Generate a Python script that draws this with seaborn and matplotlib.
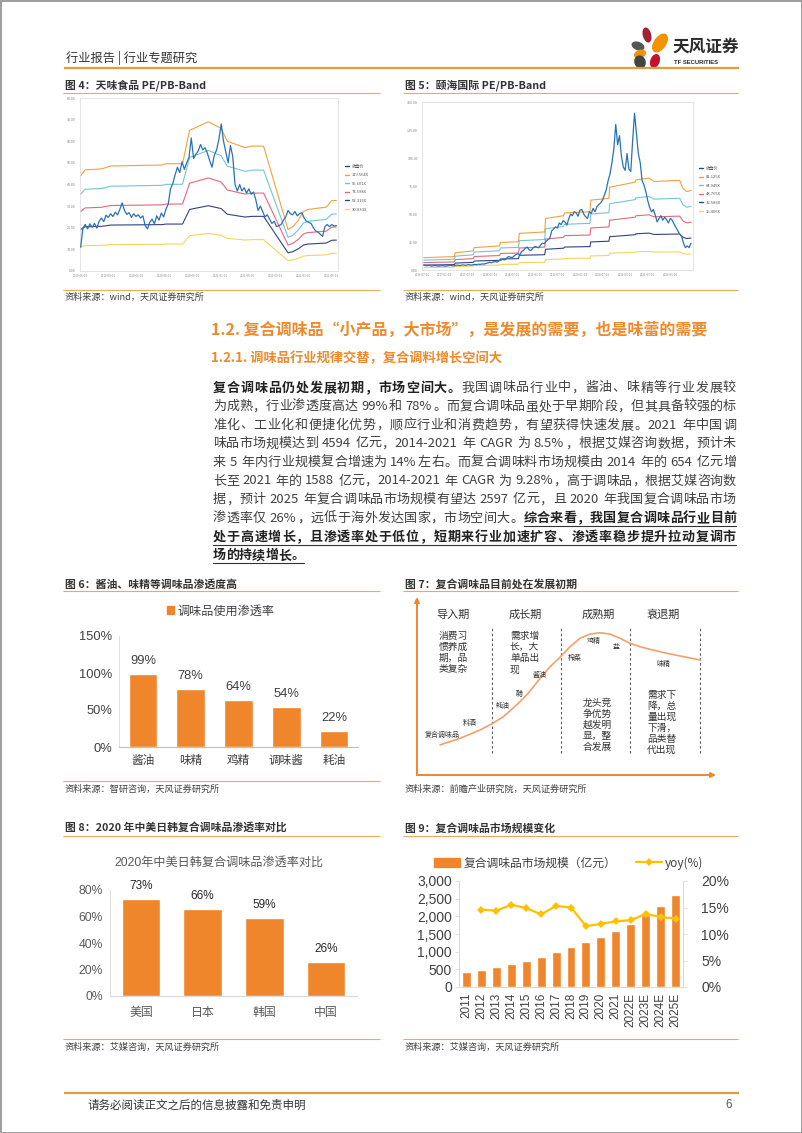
import re
import numpy as np
import pandas as pd
import matplotlib
matplotlib.use("Agg")
import matplotlib.pyplot as plt
from matplotlib.patches import Ellipse, Rectangle, Patch
from matplotlib.lines import Line2D
import seaborn as sns

# ---------------- data ----------------
# 图4 天味食品 PE-Band
tw_band_labels = ["119.564X", "96.601X", "74.598X", "52.316X", "30.033X"]
tw_multiples = [119.564, 96.601, 74.598, 52.316, 30.033]
tw_eps_dates = ["2019-05-01", "2019-05-20", "2019-08-01", "2019-09-10", "2020-04-20",
                "2020-05-10", "2020-07-20", "2020-08-20", "2020-11-10", "2021-01-05",
                "2021-02-01", "2021-04-20", "2021-05-20", "2021-07-10", "2021-10-25",
                "2021-11-15", "2021-12-10", "2022-01-01", "2022-01-20", "2022-04-10",
                "2022-05-05", "2022-05-25"]
tw_eps = [0.368, 0.391, 0.395, 0.406, 0.410, 0.415, 0.415, 0.544, 0.577, 0.552,
          0.502, 0.477, 0.483, 0.483, 0.161, 0.171, 0.197, 0.230, 0.238, 0.247,
          0.272, 0.273]
# close price, about every 10 days from 2019-05-01 to 2022-05-25
tw_price = [11.0, 20.0, 21.5, 19.5, 21.8, 20.2, 22.0, 19.8, 23.0, 24.5, 22.8, 25.8,
            24.8, 26.5, 25.2, 27.2, 26.0, 28.5, 31.5, 28.0, 26.2, 27.0, 24.8, 26.5,
            25.2, 26.0, 24.5, 25.5, 21.0, 19.5, 22.5, 24.0, 21.8, 25.5, 23.5, 26.8,
            25.0, 28.5, 31.0, 38.0, 40.5, 44.5, 48.0, 45.5, 50.5, 47.0, 50.0, 52.5,
            61.5, 52.0, 54.0, 55.5, 58.5, 56.0, 57.0, 54.5, 51.0, 48.0, 53.5, 56.0,
            61.0, 68.0, 60.0, 55.0, 50.0, 58.0, 53.0, 40.0, 37.0, 40.0, 37.0, 38.5,
            36.0, 38.0, 35.5, 36.5, 33.0, 28.0, 30.0, 27.5, 25.0, 26.0, 24.0, 22.0,
            23.0, 20.5, 21.0, 21.5, 23.5, 25.0, 28.0, 26.5, 26.0, 27.5, 25.5, 26.5,
            27.0, 24.5, 23.0, 22.5, 22.0, 20.0, 18.5, 18.0, 17.0, 16.0, 20.5, 21.5,
            20.5, 21.5, 20.8, 21.0]
tw_ticks = ["2019-05-01", "2019-09-01", "2020-01-01", "2020-05-01", "2020-09-01",
            "2021-01-01", "2021-05-01", "2021-09-01", "2022-01-01", "2022-05-01"]

# 图5 颐海国际 PE-Band
yh_band_labels = ["81.125X", "64.945X", "48.765X", "32.586X", "16.406X"]
yh_multiples = [81.125, 64.945, 48.765, 32.586, 16.406]
yh_eps_dates = ["2016-07-15", "2017-03-20", "2017-03-27", "2017-08-20", "2017-08-27",
                "2018-03-20", "2018-03-27", "2018-08-20", "2018-08-27", "2019-03-20",
                "2019-03-27", "2019-08-20", "2019-08-27", "2020-03-20", "2020-03-27",
                "2020-08-20", "2020-08-27", "2021-01-15", "2021-03-20", "2021-03-27",
                "2021-07-10", "2021-08-20", "2022-03-15", "2022-04-10", "2022-05-10",
                "2022-06-15"]
yh_eps = [0.1356, 0.1479, 0.1898, 0.2096, 0.2465, 0.2650, 0.3032, 0.3106, 0.4031,
          0.4191, 0.5670, 0.5978, 0.6287, 0.6410, 0.7692, 0.7889, 0.9122, 0.9492,
          0.9676, 0.9923, 1.0108, 0.9738, 0.9861, 0.8998, 0.8629, 0.8752]
# close price, twice a month from 2016-07-15 to 2022-06-15
yh_price = [4.5, 4.0, 3.8, 4.2, 3.5, 3.8, 4.0, 3.6, 3.4, 3.7, 3.9, 3.5,
            3.6, 3.8, 4.1, 3.9, 3.7, 4.2, 4.4, 4.0, 4.3, 4.6, 4.2, 4.5,
            4.8, 4.4, 4.6, 5.0, 4.7, 5.2, 5.0, 5.4, 5.3, 5.8, 6.2, 6.8,
            6.5, 7.2, 7.6, 7.0, 8.2, 8.8, 9.5, 9.0, 10.5, 12.0, 11.5, 11.0,
            12.5, 13.8, 14.5, 13.5, 16.5, 17.5, 19.5, 20.5, 18.0, 17.5, 19.5, 21.0,
            20.5, 19.8, 22.0, 24.0, 23.5, 25.5, 27.0, 28.5, 35.0, 36.5, 38.5, 37.5,
            42.0, 40.5, 44.0, 43.0, 40.0, 45.5, 50.0, 48.5, 52.0, 51.0, 48.0, 53.5,
            54.0, 50.0, 47.5, 46.0, 52.0, 50.5, 55.0, 52.0, 56.5, 58.5, 60.0, 62.5,
            67.0, 72.0, 80.0, 86.0, 96.0, 108.0, 130.0, 112.0, 120.0, 102.0, 92.0, 89.0,
            104.0, 90.0, 88.0, 116.0, 140.0, 122.0, 104.0, 96.0, 80.0, 76.0, 70.0, 62.0,
            56.0, 52.0, 54.0, 49.0, 43.0, 46.0, 48.5, 44.5, 47.0, 45.0, 42.0, 46.0,
            44.5, 41.0, 38.0, 35.0, 32.0, 30.0, 24.0, 20.0, 21.5, 20.0, 24.0]
yh_ticks = ["2016-07-01", "2017-01-01", "2017-07-01", "2018-01-01", "2018-07-01",
            "2019-01-01", "2019-07-01", "2020-01-01", "2020-07-01", "2021-01-01",
            "2021-07-01", "2022-01-01"]

# 图6
seasoning_cats = ["酱油", "味精", "鸡精", "调味酱", "耗油"]
seasoning_pen = [99, 78, 64, 54, 22]

# 图7 lifecycle curve (time 0-100, size 0-100)
stage_names = ["导入期", "成长期", "成熟期", "衰退期"]
stage_bounds = [25.0, 48.2, 71.2, 94.6]
curve_t = [7.7, 14.4, 21.1, 25.0, 28.9, 33.3, 37.2, 41.2, 44.5, 47.8, 51.2, 54.5,
           57.9, 61.2, 64.5, 67.9, 71.2, 74.6, 77.9, 83.5, 89.1, 94.7]
curve_v = [16.9, 20.6, 25.3, 28.7, 32.8, 39.3, 45.9, 54.3, 60.8, 66.1, 72.1, 76.8,
           79.2, 79.9, 79.2, 76.8, 74.0, 72.1, 70.6, 68.4, 66.5, 64.6]

# 图8
countries = ["美国", "日本", "韩国", "中国"]
country_pen = [73, 66, 59, 26]

# 图9
years = ["2011", "2012", "2013", "2014", "2015", "2016", "2017", "2018", "2019",
         "2020", "2021", "2022E", "2023E", "2024E", "2025E"]
market_size = [430, 490, 560, 654, 750, 850, 980, 1130, 1260, 1410, 1588, 1785,
               2030, 2300, 2597]
yoy = [14.6, 14.4, 15.5, 14.9, 13.7, 15.3, 15.0, 11.5, 11.9, 12.4, 12.6, 13.8,
       13.2, 12.9]

# ---------------- style ----------------
sns.set_theme(style="white")
plt.rcParams["font.family"] = ["Noto Sans CJK SC", "DejaVu Sans"]
NUMFONT = ["Liberation Sans", "Noto Sans CJK SC"]
ORANGE = "#F0862C"
RULE = "#F2A65A"
TXT = "#404040"
BAND_COLORS = ["#F2A23C", "#72C6D0", "#E5677B", "#34427E", "#F6D45B"]
PRICE_COLOR = "#2A72B3"

W, H = 802, 1133
fig = plt.figure(figsize=(W / 100, H / 100), dpi=100)
bg = fig.add_axes([0, 0, 1, 1])
bg.set_xlim(0, W)
bg.set_ylim(H, 0)
bg.axis("off")
renderer = fig.canvas.get_renderer()


def rect(x0, y0, x1, y1):
    return [x0 / W, 1 - y1 / H, (x1 - x0) / W, (y1 - y0) / H]


def hrule(x0, x1, y, color=RULE, lw=0.8):
    bg.plot([x0, x1], [y, y], color=color, lw=lw, solid_capstyle="butt")


# page frame, header, footer
bg.add_patch(Rectangle((0.5, 0.5), W - 1, H - 1, fill=False, edgecolor="#8C8C8C", lw=1.2))
bg.text(66, 58, "行业报告 | 行业专题研究", fontsize=8.8, color="#333333", va="center")
hrule(64, 739, 68, color="#E59A3B", lw=1.6)
for (cx, cy, w, h, a, c) in [(647, 35, 7, 14, -15, "#A31F34"), (660, 43, 11, 20, 35, "#F39200"),
                             (638, 46, 12, 7, 20, "#555555"), (640, 54, 11, 7, -20, "#F39200"),
                             (640, 62, 10, 12, -20, "#444444"), (655, 61, 8, 13, 20, "#C8102E")]:
    bg.add_patch(Ellipse((cx, cy), w, h, angle=a, color=c))
bg.text(672, 47, "天风证券", fontsize=12, fontweight="bold", color="#2B2B2B", va="center")
bg.text(674, 63, "TF SECURITIES", fontsize=4.2, fontweight="bold", color="#2B2B2B",
        va="center", family=NUMFONT)
hrule(64, 739, 1093, color="#E59A3B", lw=1.6)
bg.text(87, 1105, "请务必阅读正文之后的信息披露和免责申明", fontsize=8.3, color="#333333", va="center")
bg.text(732, 1105, "6", fontsize=8.3, color="#555555", va="center", ha="right", family=NUMFONT)


def fig_title(x, y, s):
    bg.text(x, y, s, fontsize=7.8, fontweight="bold", color="#333333", va="center")


def fig_source(x, y, s):
    bg.text(x, y, s, fontsize=6.6, color=TXT, va="center")


# ---------------- PE band charts ----------------
def band_chart(box, price, pstart, pend, eps_dates, eps, mults, labels, ymax, ystep,
               ticks, xlim, leg_xy):
    ax = fig.add_axes(rect(*box))
    ax.set_facecolor("white")
    ed = pd.to_datetime(eps_dates)
    handles = []
    for m, lab, c in zip(mults, labels, BAND_COLORS):
        sns.lineplot(x=ed, y=np.array(eps) * m, ax=ax, color=c, lw=0.8)
        handles.append(Line2D([0], [0], color=c, lw=1.0, label=lab))
    pdates = pd.date_range(pstart, pend, periods=len(price))
    sns.lineplot(x=pdates, y=price, ax=ax, color=PRICE_COLOR, lw=0.9, zorder=3)
    handles.insert(0, Line2D([0], [0], color="#1F4E79", lw=1.0, label="收盘价"))
    ax.set_xlim(pd.to_datetime(xlim[0]), pd.to_datetime(xlim[1]))
    ax.set_ylim(0, ymax)
    yt = np.arange(0, ymax + 1, ystep)
    ax.set_yticks(yt)
    ax.set_yticklabels([f"{v:.2f}" for v in yt])
    ax.set_xticks(pd.to_datetime(ticks))
    ax.set_xticklabels(ticks)
    ax.tick_params(axis="y", labelsize=2.6, colors="#808080", length=0, pad=3)
    ax.tick_params(axis="x", labelsize=2.1, colors="#808080", length=0, pad=2)
    ax.set_xlabel("")
    ax.set_ylabel("")
    for s in ax.spines.values():
        s.set_color("#D9D9D9")
        s.set_linewidth(0.5)
    ax.legend(handles=handles, loc="center left", bbox_to_anchor=leg_xy,
              bbox_transform=bg.transData, frameon=False, fontsize=3.0,
              handlelength=1.0, handletextpad=0.6, labelspacing=1.1, borderpad=0,
              labelcolor="#555555")
    return ax


fig_title(65, 85, "图 4：天味食品 PE/PB-Band")
hrule(63, 380, 93)
band_chart((80, 98, 338, 271), tw_price, "2019-05-01", "2022-05-25", tw_eps_dates, tw_eps,
           tw_multiples, tw_band_labels, 80, 10, tw_ticks, ("2019-04-28", "2022-06-01"),
           (343, 188))
hrule(63, 380, 290)
fig_source(65, 297, "资料来源：wind，天风证券研究所")

fig_title(405, 85, "图 5：颐海国际 PE/PB-Band")
hrule(403, 738, 93)
band_chart((422, 102, 693, 270), yh_price, "2016-07-15", "2022-06-15", yh_eps_dates, yh_eps,
           yh_multiples, yh_band_labels, 150, 25, yh_ticks, ("2016-07-01", "2022-07-01"),
           (697, 190))
hrule(403, 738, 290)
fig_source(405, 297, "资料来源：wind，天风证券研究所")

# ---------------- text block ----------------
HEAD = "#EE8A2C"
bg.text(211, 330, "1.2. 复合调味品“小产品，大市场”，是发展的需要，也是味蕾的需要",
        fontsize=11.5, fontweight="bold", color=HEAD, va="center")
bg.text(211, 358, "1.2.1. 调味品行业规律交替，复合调料增长空间大",
        fontsize=9.5, fontweight="bold", color=HEAD, va="center")

para_lines = [
    [("复合调味品仍处发展初期，市场空间大。", "b"), ("我国调味品行业中，酱油、味精等行业发展较", "n")],
    [("为成熟，行业渗透度高达 99%和 78%。而复合调味品虽处于早期阶段，但其具备较强的标", "n")],
    [("准化、工业化和便捷化优势，顺应行业和消费趋势，有望获得快速发展。2021 年中国调", "n")],
    [("味品市场规模达到 4594 亿元，2014-2021 年 CAGR 为 8.5%，根据艾媒咨询数据，预计未", "n")],
    [("来 5 年内行业规模复合增速为 14%左右。而复合调味料市场规模由 2014 年的 654 亿元增", "n")],
    [("长至 2021 年的 1588 亿元，2014-2021 年 CAGR 为 9.28%，高于调味品，根据艾媒咨询数", "n")],
    [("据，预计 2025 年复合调味品市场规模有望达 2597 亿元，且 2020 年我国复合调味品市场", "n")],
    [("渗透率仅 26%，远低于海外发达国家，市场空间大。", "n"), ("综合来看，我国复合调味品行业目前", "bu")],
    [("处于高速增长，且渗透率处于低位，短期来行业加速扩容、渗透率稳步提升拉动复调市", "bu")],
    [("场的持续增长。", "bu")],
]
# justified lines: every CJK glyph advances one em, latin runs by their width
PX0, PX1, BASE = 213, 736, 9.4
EM = BASE * 100 / 72
for i, segs in enumerate(para_lines):
    y = 388 + i * 18.6
    toks = []
    for s, style in segs:
        for tk in re.findall(r"[A-Za-z0-9.%\-]+| |.", s):
            if tk == " ":
                toks.append([None, 0.25 * EM, style])
                continue
            t = bg.text(0, y, tk, fontsize=BASE, va="center", ha="left",
                        fontweight="bold" if "b" in style else "normal",
                        color="#222222" if "b" in style else TXT)
            adv = EM if ord(tk[0]) > 0x2E7F else t.get_window_extent(renderer).width + 0.08 * EM
            toks.append([t, adv, style])
    natural = sum(tk[1] for tk in toks)
    last = i == len(para_lines) - 1
    gap = 0 if last else (PX1 - PX0 - natural) / (len(toks) - 1)
    x = PX0
    u0 = u1 = None
    for t, adv, style in toks:
        if t is not None:
            t.set_x(x)
        if "u" in style:
            u0 = x if u0 is None else u0
            u1 = x + adv
        x += adv + gap
    if u0 is not None:
        bg.plot([u0, u1], [y + 8, y + 8], color="#333333", lw=0.8)

# ---------------- 图6 ----------------
fig_title(65, 584, "图 6：酱油、味精等调味品渗透度高")
hrule(63, 380, 591)
ax6 = fig.add_axes(rect(119, 636, 358, 747))
ax6.patch.set_alpha(0)
sns.barplot(x=seasoning_cats, y=seasoning_pen, color=ORANGE, saturation=1, width=0.6, ax=ax6)
ax6.bar_label(ax6.containers[0], labels=[f"{v}%" for v in seasoning_pen], padding=5,
              fontsize=9.3, color=TXT, family=NUMFONT)
ax6.set_ylim(0, 150)
ax6.set_yticks([0, 50, 100, 150])
ax6.set_yticklabels(["0%", "50%", "100%", "150%"])
ax6.tick_params(axis="y", labelsize=9.3, colors=TXT, length=3, color="#D9D9D9", width=0.6, pad=2)
ax6.tick_params(axis="x", labelsize=8.4, colors=TXT, length=0, pad=5)
for lab in ax6.get_yticklabels():
    lab.set_fontfamily(NUMFONT)
sns.despine(ax=ax6, top=True, right=True)
ax6.spines["left"].set_color("#D9D9D9")
ax6.spines["left"].set_linewidth(0.6)
ax6.spines["bottom"].set_color("#BFBFBF")
ax6.spines["bottom"].set_linewidth(0.8)
ax6.legend(handles=[Patch(color=ORANGE, label="调味品使用渗透率")], loc="center",
           bbox_to_anchor=(221, 611), bbox_transform=bg.transData, frameon=False,
           fontsize=8.7, handlelength=0.6, handleheight=0.6, handletextpad=0.3,
           labelcolor=TXT)
hrule(63, 380, 781)
fig_source(65, 789, "资料来源：智研咨询，天风证券研究所")

# ---------------- 图7 ----------------
fig_title(405, 584, "图 7：复合调味品目前处在发展初期")
hrule(403, 738, 591)
ax7 = fig.add_axes(rect(417, 597, 716, 775))
ax7.set_xlim(0, 100)
ax7.set_ylim(0, 100)
ax7.axis("off")
arrow = dict(arrowstyle="-|>", color=ORANGE, lw=1.4, mutation_scale=7, shrinkA=0, shrinkB=0)
ax7.annotate("", xy=(0, 100), xytext=(0, 0), arrowprops=arrow, annotation_clip=False)
ax7.annotate("", xy=(100, 0), xytext=(0, 0), arrowprops=arrow, annotation_clip=False)
ax7.vlines(stage_bounds, 12.4, 82.6, colors="#595959", linestyles=(0, (2.2, 2.2)), lw=0.8)
sns.lineplot(x=curve_t, y=curve_v, ax=ax7, color="#F4A06A", lw=1.2, sort=False)
for name, xc in zip(stage_names, [12.0, 36.1, 60.5, 82.3]):
    ax7.text(xc, 89.9, name, fontsize=8, color="#333333", ha="center", va="center")
# stacked description text, one row every 11 px (6.2 units)
for rows, xc, ytop, ha in [(["消费习", "惯养成", "期，品", "类复杂"], 12.0, 78.0, "center"),
                           (["需求增", "长，大", "单品出", "现"], 31.1, 78.0, "left"),
                           (["龙头竞", "争优势", "越发明", "显，整", "合发展"], 60.2, 40.5, "center"),
                           (["需求下", "降，总", "量出现", "下滑，", "品类替", "代出现"], 81.9, 45.0, "center")]:
    for k, row in enumerate(rows):
        ax7.text(xc, ytop - k * 6.2, row, fontsize=7, color="#333333", ha=ha, va="center")
for name, (xt, yt) in zip(["复合调味品", "料酒", "蚝油", "醋", "酱油", "榨菜", "鸡精", "盐", "味精"],
                          [(8.4, 22.5), (17.7, 29.2), (28.8, 38.8), (34.1, 46.1), (41.0, 56.2),
                           (52.8, 65.7), (59.2, 75.3), (66.6, 71.9), (82.3, 62.4)]):
    ax7.text(xt, yt, name, fontsize=5, color="#333333", ha="center", va="center")
fig_source(405, 789, "资料来源：前瞻产业研究院，天风证券研究所")

# ---------------- 图8 ----------------
fig_title(65, 828, "图 8：2020 年中美日韩复合调味品渗透率对比")
hrule(63, 380, 836)
bg.text(219, 863, "2020年中美日韩复合调味品渗透率对比", fontsize=8.7, color="#595959",
        ha="center", va="center", family=NUMFONT)
ax8 = fig.add_axes(rect(110, 890, 357, 996))
ax8.patch.set_alpha(0)
sns.barplot(x=countries, y=country_pen, color=ORANGE, saturation=1, width=0.62, ax=ax8)
ax8.bar_label(ax8.containers[0], labels=[f"{v}%" for v in country_pen], padding=5,
              fontsize=8.5, color="#262626", family=NUMFONT)
ax8.set_ylim(0, 80)
ax8.set_yticks([0, 20, 40, 60, 80])
ax8.set_yticklabels(["0%", "20%", "40%", "60%", "80%"])
ax8.tick_params(axis="y", labelsize=8.7, colors="#595959", length=3, color="#D9D9D9", width=0.6, pad=2)
ax8.tick_params(axis="x", labelsize=8.6, colors="#595959", length=0, pad=7)
for lab in ax8.get_yticklabels():
    lab.set_fontfamily(NUMFONT)
sns.despine(ax=ax8, top=True, right=True)
ax8.spines["left"].set_color("#D9D9D9")
ax8.spines["left"].set_linewidth(0.6)
ax8.spines["bottom"].set_color("#D9D9D9")
ax8.spines["bottom"].set_linewidth(0.8)
hrule(63, 380, 1039)
fig_source(65, 1047, "资料来源：艾媒咨询，天风证券研究所")

# ---------------- 图9 ----------------
fig_title(405, 828, "图 9：复合调味品市场规模变化")
hrule(403, 738, 836)
ax9 = fig.add_axes(rect(459, 881, 683, 987))
ax9.patch.set_alpha(0)
sns.barplot(x=years, y=market_size, color=ORANGE, saturation=1, width=0.6, ax=ax9)
ax9.set_ylim(0, 3000)
ax9.set_yticks(range(0, 3001, 500))
ax9.set_yticklabels([f"{v:,}" for v in range(0, 3001, 500)])
ax9.set_xlim(-0.5, len(years) - 0.5)
ax9.tick_params(axis="y", labelsize=10, colors=TXT, length=3, color="#D9D9D9", width=0.6, pad=2)
ax9.tick_params(axis="x", labelsize=8.5, colors=TXT, length=0, pad=4, rotation=90)
ax9b = ax9.twinx()
sns.lineplot(x=np.arange(1, len(years)), y=yoy, ax=ax9b, color="#FFC000", lw=1.6,
             marker="D", markersize=4.5, markeredgewidth=0)
ax9b.set_ylim(0, 20)
ax9b.set_yticks([0, 5, 10, 15, 20])
ax9b.set_yticklabels(["0%", "5%", "10%", "15%", "20%"])
ax9b.tick_params(axis="y", labelsize=10, colors=TXT, length=3, color="#D9D9D9", width=0.6, pad=10)
for lab in ax9.get_yticklabels() + ax9.get_xticklabels() + ax9b.get_yticklabels():
    lab.set_fontfamily(NUMFONT)
for a in (ax9, ax9b):
    a.set_xlabel("")
    a.set_ylabel("")
    a.spines["top"].set_visible(False)
    for s in ("left", "right", "bottom"):
        a.spines[s].set_color("#D9D9D9")
        a.spines[s].set_linewidth(0.6)
ax9.legend(handles=[Patch(color=ORANGE, label="复合调味品市场规模（亿元）"),
                    Line2D([0], [0], color="#FFC000", lw=1.6, marker="D", markersize=4.5,
                           markeredgewidth=0, label="yoy(%)")],
           loc="center", bbox_to_anchor=(569, 863), bbox_transform=bg.transData, ncol=2,
           frameon=False, fontsize=8.5, handlelength=2.2, handleheight=0.8,
           handletextpad=0.3, columnspacing=1.6, labelcolor=TXT)
hrule(403, 738, 1039)
fig_source(405, 1047, "资料来源：艾媒咨询，天风证券研究所")

fig.savefig("out.png", dpi=100)
plt.close(fig)
